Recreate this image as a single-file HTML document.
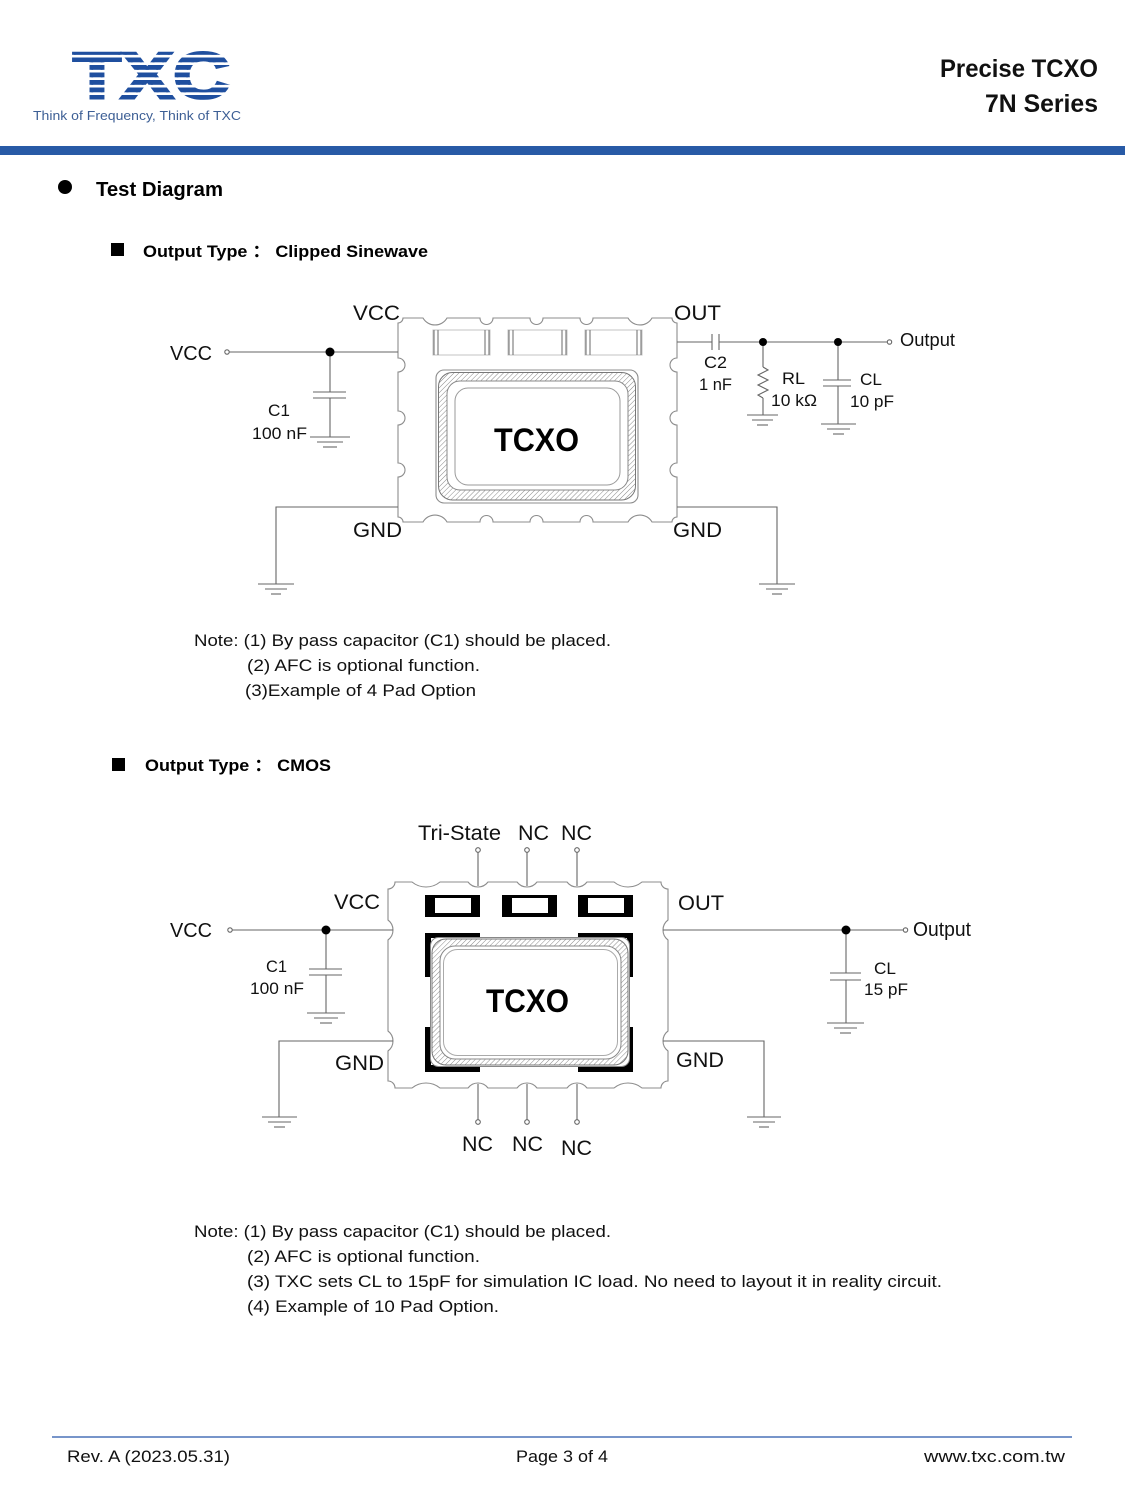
<!DOCTYPE html>
<html>
<head>
<meta charset="utf-8">
<style>
  html,body{margin:0;padding:0;background:#fff;}
  svg{display:block;}
  text{font-family:"Liberation Sans","Noto Sans CJK SC",sans-serif;}
</style>
</head>
<body>
<svg width="1125" height="1500" viewBox="0 0 1125 1500" xmlns="http://www.w3.org/2000/svg">
  <defs>
    <pattern id="stripes" x="0" y="50" width="20" height="7.5" patternUnits="userSpaceOnUse">
      <rect x="0" y="0" width="20" height="4.8" fill="#1f4f9f"/>
    </pattern>
    <pattern id="hatch" width="3.5" height="3.5" patternUnits="userSpaceOnUse" patternTransform="rotate(45)">
      <line x1="0" y1="0" x2="0" y2="3.5" stroke="#8a8a8a" stroke-width="1"/>
    </pattern>
  </defs>
  <rect x="0" y="0" width="1125" height="1500" fill="#fff"/>

  <!-- ===== Header ===== -->
  <text x="73" y="98" font-size="65" font-weight="bold" fill="url(#stripes)" stroke="url(#stripes)" stroke-width="3" textLength="157" lengthAdjust="spacingAndGlyphs">TXC</text>
  <text x="33" y="120" font-size="13" fill="#3d5f95" textLength="208" lengthAdjust="spacingAndGlyphs">Think of Frequency, Think of TXC</text>
  <text x="940" y="77" font-size="25" font-weight="bold" fill="#111" textLength="158" lengthAdjust="spacingAndGlyphs">Precise TCXO</text>
  <text x="985" y="112" font-size="25" font-weight="bold" fill="#111" textLength="113" lengthAdjust="spacingAndGlyphs">7N Series</text>
  <rect x="0" y="146" width="1125" height="9" fill="#285aa6"/>

  <!-- ===== Section headings ===== -->
  <circle cx="65" cy="187" r="7" fill="#000"/>
  <text x="96" y="196" font-size="20" font-weight="bold" fill="#000" textLength="127" lengthAdjust="spacingAndGlyphs">Test Diagram</text>
  <rect x="111" y="243" width="13" height="13" fill="#000"/>
  <text x="143" y="257" font-size="17" font-weight="bold" fill="#000" textLength="285" lengthAdjust="spacingAndGlyphs">Output Type ： Clipped Sinewave</text>

  <!-- ===== Diagram 1 ===== -->
  <g fill="none" stroke="#8c8c8c" stroke-width="1.1">
    <path d="M398 323 A5 5 0 0 0 403 318 L423 318 A13.8 13.8 0 0 0 447 318 L480 318 A6.5 6.5 0 0 0 493 318 L530 318 A6.5 6.5 0 0 0 543 318 L580 318 A6.5 6.5 0 0 0 593 318 L628 318 A13.8 13.8 0 0 0 652 318 L672 318 A5 5 0 0 0 677 323 L677 358 A7 7 0 0 0 677 372 L677 411 A7 7 0 0 0 677 425 L677 463 A7 7 0 0 0 677 477 L677 517 A5 5 0 0 0 672 522 L652 522 A13.8 13.8 0 0 0 628 522 L593 522 A6.5 6.5 0 0 0 580 522 L543 522 A6.5 6.5 0 0 0 530 522 L493 522 A6.5 6.5 0 0 0 480 522 L447 522 A13.8 13.8 0 0 0 423 522 L403 522 A5 5 0 0 0 398 517 L398 477 A7 7 0 0 0 398 463 L398 425 A7 7 0 0 0 398 411 L398 372 A7 7 0 0 0 398 358 Z"/>
    <rect x="433" y="330" width="57" height="25" stroke="#c8c8c8"/>
    <rect x="508" y="330" width="59" height="25" stroke="#c8c8c8"/>
    <rect x="585" y="330" width="57" height="25" stroke="#c8c8c8"/>
  </g>
  <g stroke="#777" stroke-width="1.1">
    <line x1="434" y1="330" x2="434" y2="355"/><line x1="438" y1="330" x2="438" y2="355"/>
    <line x1="485" y1="330" x2="485" y2="355"/><line x1="489" y1="330" x2="489" y2="355"/>
    <line x1="509" y1="330" x2="509" y2="355"/><line x1="513" y1="330" x2="513" y2="355"/>
    <line x1="562" y1="330" x2="562" y2="355"/><line x1="566" y1="330" x2="566" y2="355"/>
    <line x1="586" y1="330" x2="586" y2="355"/><line x1="590" y1="330" x2="590" y2="355"/>
    <line x1="637" y1="330" x2="637" y2="355"/><line x1="641" y1="330" x2="641" y2="355"/>
  </g>
  <rect x="436" y="370" width="202" height="133" rx="8" fill="#fff" stroke="#8c8c8c" stroke-width="1.1"/>
  <rect x="438.5" y="372.5" width="197" height="127.5" rx="14" fill="url(#hatch)" stroke="#777" stroke-width="1"/>
  <rect x="447" y="381" width="181" height="109" rx="13" fill="#fff" stroke="#888" stroke-width="1"/>
  <rect x="455" y="388" width="165" height="97" rx="13" fill="#fff" stroke="#999" stroke-width="1"/>
  <text x="494" y="451" font-size="32" font-weight="bold" fill="#000" textLength="85" lengthAdjust="spacingAndGlyphs">TCXO</text>

  <g fill="none" stroke="#666" stroke-width="1.1">
    <circle cx="227" cy="352" r="2.2"/>
    <line x1="229" y1="352" x2="398" y2="352"/>
    <line x1="330" y1="352" x2="330" y2="392"/>
    <line x1="313" y1="392" x2="346" y2="392"/>
    <line x1="313" y1="398" x2="346" y2="398"/>
    <line x1="330" y1="398" x2="330" y2="437"/>
    <line x1="310" y1="437" x2="350" y2="437"/>
    <line x1="317" y1="442" x2="343" y2="442"/>
    <line x1="323" y1="447" x2="337" y2="447"/>
    <polyline points="398,507 276,507 276,584"/>
    <line x1="258" y1="584" x2="294" y2="584"/>
    <line x1="265" y1="589" x2="287" y2="589"/>
    <line x1="271" y1="594" x2="281" y2="594"/>
    <polyline points="677,507 777,507 777,584"/>
    <line x1="759" y1="584" x2="795" y2="584"/>
    <line x1="766" y1="589" x2="788" y2="589"/>
    <line x1="772" y1="594" x2="782" y2="594"/>
    <line x1="677" y1="342" x2="712" y2="342"/>
    <line x1="712" y1="334" x2="712" y2="350"/>
    <line x1="719" y1="334" x2="719" y2="350"/>
    <line x1="719" y1="342" x2="887" y2="342"/>
    <circle cx="889.5" cy="342" r="2.2"/>
    <line x1="763" y1="342" x2="763" y2="367"/>
    <polyline points="763,367 768,370 758,375 768,380 758,385 768,390 758,395 763,398"/>
    <line x1="763" y1="398" x2="763" y2="415"/>
    <line x1="747" y1="415" x2="778" y2="415"/>
    <line x1="752" y1="420" x2="773" y2="420"/>
    <line x1="757" y1="425" x2="768" y2="425"/>
    <line x1="838" y1="342" x2="838" y2="380"/>
    <line x1="823" y1="380" x2="851" y2="380"/>
    <line x1="823" y1="386" x2="851" y2="386"/>
    <line x1="838" y1="386" x2="838" y2="424"/>
    <line x1="821" y1="424" x2="856" y2="424"/>
    <line x1="827" y1="429" x2="850" y2="429"/>
    <line x1="833" y1="434" x2="844" y2="434"/>
  </g>
  <circle cx="330" cy="352" r="4.5" fill="#000"/>
  <circle cx="763" cy="342" r="4" fill="#000"/>
  <circle cx="838" cy="342" r="4" fill="#000"/>

  <g fill="#111" font-size="21">
    <text x="353" y="320" textLength="47" lengthAdjust="spacingAndGlyphs">VCC</text>
    <text x="674" y="320" textLength="47" lengthAdjust="spacingAndGlyphs">OUT</text>
    <text x="170" y="360" font-size="20" textLength="42" lengthAdjust="spacingAndGlyphs">VCC</text>
    <text x="353" y="537" textLength="49" lengthAdjust="spacingAndGlyphs">GND</text>
    <text x="673" y="537" textLength="49" lengthAdjust="spacingAndGlyphs">GND</text>
  </g>
  <g fill="#111" font-size="17">
    <text x="268" y="416" textLength="22" lengthAdjust="spacingAndGlyphs">C1</text>
    <text x="252" y="439" textLength="55" lengthAdjust="spacingAndGlyphs">100 nF</text>
    <text x="704" y="368" textLength="23" lengthAdjust="spacingAndGlyphs">C2</text>
    <text x="699" y="390" textLength="33" lengthAdjust="spacingAndGlyphs">1 nF</text>
    <text x="782" y="384" textLength="23" lengthAdjust="spacingAndGlyphs">RL</text>
    <text x="771" y="406" textLength="46" lengthAdjust="spacingAndGlyphs">10 kΩ</text>
    <text x="860" y="385" textLength="22" lengthAdjust="spacingAndGlyphs">CL</text>
    <text x="850" y="407" textLength="44" lengthAdjust="spacingAndGlyphs">10 pF</text>
    <text x="900" y="346" font-size="18" textLength="55" lengthAdjust="spacingAndGlyphs">Output</text>
  </g>

  <g fill="#111" font-size="17">
    <text x="194" y="646" textLength="417" lengthAdjust="spacingAndGlyphs">Note: (1) By pass capacitor (C1) should be placed.</text>
    <text x="247" y="671" textLength="233" lengthAdjust="spacingAndGlyphs">(2) AFC is optional function.</text>
    <text x="245" y="696" textLength="231" lengthAdjust="spacingAndGlyphs">(3)Example of 4 Pad Option</text>
  </g>

  <!-- ===== Section 2 heading ===== -->
  <rect x="112" y="758" width="13" height="13" fill="#000"/>
  <text x="145" y="771" font-size="17" font-weight="bold" fill="#000" textLength="186" lengthAdjust="spacingAndGlyphs">Output Type ： CMOS</text>

  <!-- ===== Diagram 2 ===== -->
  <path fill="none" stroke="#8c8c8c" stroke-width="1.1" d="M388 889 A7 7 0 0 0 395 882 L412 882 A22.1 22.1 0 0 0 440 882 L468 882 A12.5 12.5 0 0 0 488 882 L517 882 A12.5 12.5 0 0 0 537 882 L567 882 A12.5 12.5 0 0 0 587 882 L614 882 A22.1 22.1 0 0 0 642 882 L661 882 A7 7 0 0 0 668 889 L668 920 A12.5 12.5 0 0 0 668 940 L668 1031 A12.5 12.5 0 0 0 668 1051 L668 1081 A7 7 0 0 0 661 1088 L642 1088 A22.1 22.1 0 0 0 614 1088 L587 1088 A12.5 12.5 0 0 0 567 1088 L537 1088 A12.5 12.5 0 0 0 517 1088 L488 1088 A12.5 12.5 0 0 0 468 1088 L440 1088 A22.1 22.1 0 0 0 412 1088 L395 1088 A7 7 0 0 0 388 1081 L388 1051 A12.5 12.5 0 0 0 388 1031 L388 940 A12.5 12.5 0 0 0 388 920 Z"/>
  <g>
    <rect x="425" y="895" width="55" height="22" fill="#000"/>
    <rect x="435" y="898" width="36" height="15" fill="#fff"/>
    <rect x="502" y="895" width="55" height="22" fill="#000"/>
    <rect x="512" y="898" width="36" height="15" fill="#fff"/>
    <rect x="578" y="895" width="55" height="22" fill="#000"/>
    <rect x="588" y="898" width="36" height="15" fill="#fff"/>
  </g>
  <g fill="#000">
    <rect x="425" y="933" width="55" height="5"/>
    <rect x="425" y="933" width="6" height="44"/>
    <rect x="578" y="933" width="55" height="5"/>
    <rect x="627" y="933" width="6" height="44"/>
    <rect x="425" y="1065" width="55" height="7"/>
    <rect x="425" y="1027" width="6" height="45"/>
    <rect x="578" y="1065" width="55" height="7"/>
    <rect x="627" y="1027" width="6" height="45"/>
  </g>
  <rect x="430.5" y="937.5" width="199" height="129" rx="8" fill="#fff" stroke="#888" stroke-width="1"/>
  <rect x="432" y="939" width="196" height="126" rx="14" fill="url(#hatch)" stroke="#777" stroke-width="1"/>
  <rect x="440" y="946" width="181" height="113" rx="15" fill="#fff" stroke="#888" stroke-width="1"/>
  <rect x="443.5" y="949.5" width="174" height="106" rx="14" fill="#fff" stroke="#aaa" stroke-width="1"/>
  <text x="486" y="1012" font-size="32" font-weight="bold" fill="#000" textLength="83" lengthAdjust="spacingAndGlyphs">TCXO</text>

  <g fill="none" stroke="#666" stroke-width="1.1">
    <circle cx="478" cy="850" r="2.3"/><line x1="478" y1="852.3" x2="478" y2="886"/>
    <circle cx="527" cy="850" r="2.3"/><line x1="527" y1="852.3" x2="527" y2="886"/>
    <circle cx="577" cy="850" r="2.3"/><line x1="577" y1="852.3" x2="577" y2="886"/>
    <line x1="478" y1="1084" x2="478" y2="1119.7"/><circle cx="478" cy="1122" r="2.3"/>
    <line x1="527" y1="1084" x2="527" y2="1119.7"/><circle cx="527" cy="1122" r="2.3"/>
    <line x1="577" y1="1084" x2="577" y2="1119.7"/><circle cx="577" cy="1122" r="2.3"/>
    <circle cx="230" cy="930" r="2.2"/>
    <line x1="232.2" y1="930" x2="393" y2="930"/>
    <line x1="326" y1="930" x2="326" y2="969"/>
    <line x1="309" y1="969" x2="342" y2="969"/>
    <line x1="309" y1="975" x2="342" y2="975"/>
    <line x1="326" y1="975" x2="326" y2="1013"/>
    <line x1="307" y1="1013" x2="345" y2="1013"/>
    <line x1="314" y1="1018" x2="338" y2="1018"/>
    <line x1="320" y1="1023" x2="332" y2="1023"/>
    <polyline points="393,1041 279,1041 279,1117"/>
    <line x1="262" y1="1117" x2="297" y2="1117"/>
    <line x1="268" y1="1122" x2="291" y2="1122"/>
    <line x1="274" y1="1127" x2="285" y2="1127"/>
    <line x1="663" y1="930" x2="903" y2="930"/>
    <circle cx="905.5" cy="930" r="2.2"/>
    <line x1="846" y1="930" x2="846" y2="973"/>
    <line x1="830" y1="973" x2="861" y2="973"/>
    <line x1="830" y1="980" x2="861" y2="980"/>
    <line x1="846" y1="980" x2="846" y2="1023"/>
    <line x1="827" y1="1023" x2="864" y2="1023"/>
    <line x1="834" y1="1028" x2="857" y2="1028"/>
    <line x1="840" y1="1033" x2="851" y2="1033"/>
    <polyline points="663,1041 764,1041 764,1117"/>
    <line x1="747" y1="1117" x2="781" y2="1117"/>
    <line x1="753" y1="1122" x2="775" y2="1122"/>
    <line x1="759" y1="1127" x2="769" y2="1127"/>
  </g>
  <circle cx="326" cy="930" r="4.5" fill="#000"/>
  <circle cx="846" cy="930" r="4.5" fill="#000"/>

  <g fill="#111" font-size="21">
    <text x="418" y="840" textLength="83" lengthAdjust="spacingAndGlyphs">Tri-State</text>
    <text x="518" y="840" textLength="31" lengthAdjust="spacingAndGlyphs">NC</text>
    <text x="561" y="840" textLength="31" lengthAdjust="spacingAndGlyphs">NC</text>
    <text x="334" y="909" textLength="46" lengthAdjust="spacingAndGlyphs">VCC</text>
    <text x="678" y="910" textLength="46" lengthAdjust="spacingAndGlyphs">OUT</text>
    <text x="170" y="937" font-size="20" textLength="42" lengthAdjust="spacingAndGlyphs">VCC</text>
    <text x="913" y="936" font-size="20" textLength="58" lengthAdjust="spacingAndGlyphs">Output</text>
    <text x="335" y="1070" textLength="49" lengthAdjust="spacingAndGlyphs">GND</text>
    <text x="676" y="1067" textLength="48" lengthAdjust="spacingAndGlyphs">GND</text>
    <text x="462" y="1151" textLength="31" lengthAdjust="spacingAndGlyphs">NC</text>
    <text x="512" y="1151" textLength="31" lengthAdjust="spacingAndGlyphs">NC</text>
    <text x="561" y="1155" textLength="31" lengthAdjust="spacingAndGlyphs">NC</text>
  </g>
  <g fill="#111" font-size="17">
    <text x="266" y="972" textLength="21" lengthAdjust="spacingAndGlyphs">C1</text>
    <text x="250" y="994" textLength="54" lengthAdjust="spacingAndGlyphs">100 nF</text>
    <text x="874" y="974" textLength="22" lengthAdjust="spacingAndGlyphs">CL</text>
    <text x="864" y="995" textLength="44" lengthAdjust="spacingAndGlyphs">15 pF</text>
  </g>

  <g fill="#111" font-size="17">
    <text x="194" y="1237" textLength="417" lengthAdjust="spacingAndGlyphs">Note: (1) By pass capacitor (C1) should be placed.</text>
    <text x="247" y="1262" textLength="233" lengthAdjust="spacingAndGlyphs">(2) AFC is optional function.</text>
    <text x="247" y="1287" textLength="695" lengthAdjust="spacingAndGlyphs">(3) TXC sets CL to 15pF for simulation IC load. No need to layout it in reality circuit.</text>
    <text x="247" y="1312" textLength="252" lengthAdjust="spacingAndGlyphs">(4) Example of 10 Pad Option.</text>
  </g>

  <!-- ===== Footer ===== -->
  <line x1="52" y1="1437" x2="1072" y2="1437" stroke="#4a72b8" stroke-width="1.5"/>
  <g fill="#111" font-size="17">
    <text x="67" y="1462" textLength="163" lengthAdjust="spacingAndGlyphs">Rev. A (2023.05.31)</text>
    <text x="516" y="1462" textLength="92" lengthAdjust="spacingAndGlyphs">Page 3 of 4</text>
    <text x="924" y="1462" textLength="141" lengthAdjust="spacingAndGlyphs">www.txc.com.tw</text>
  </g>
</svg>
</body>
</html>
